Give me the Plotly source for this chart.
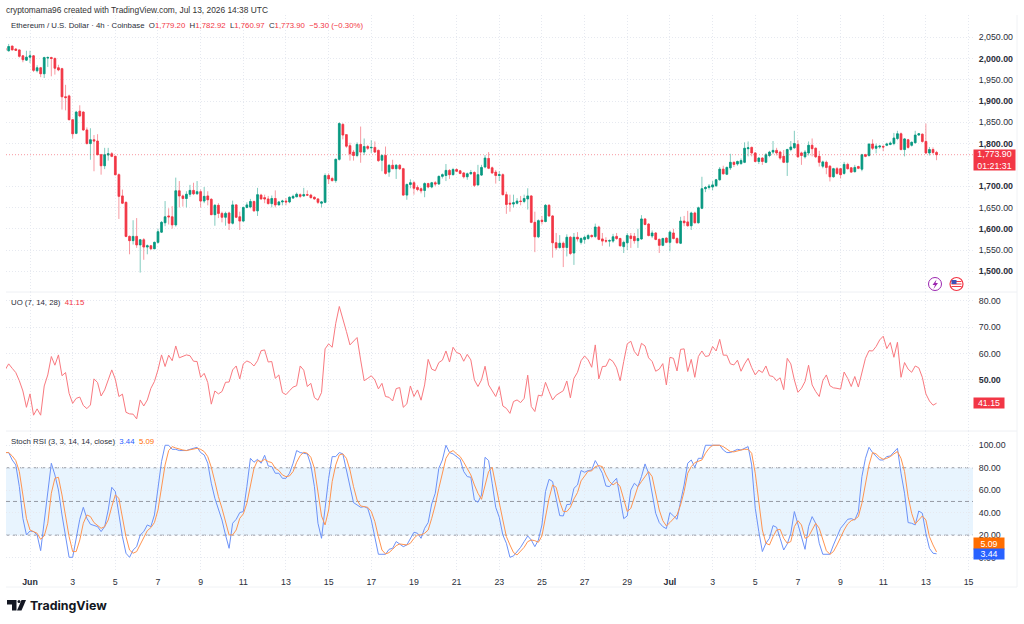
"""ETH/USD 4h TradingView snapshot with UO and Stoch RSI panes."""
import numpy as np
import pandas as pd
import plotly.graph_objects as go
from plotly.subplots import make_subplots

open_ = [
    2024, 2018, 2029, 2022, 2020, 2006, 1996, 2003, 2006, 1971,
    1978, 1964, 2001, 2002, 2000, 1978, 1976, 1910, 1912, 1856,
    1824, 1876, 1874, 1832, 1800, 1809, 1806, 1774, 1748, 1773,
    1776, 1770, 1727, 1677, 1662, 1582, 1572, 1582, 1562, 1574,
    1557, 1560, 1553, 1568, 1592, 1614, 1630, 1628, 1609, 1689,
    1677, 1671, 1681, 1690, 1682, 1687, 1665, 1677, 1669, 1633,
    1655, 1636, 1627, 1637, 1613, 1656, 1628, 1618, 1650, 1651,
    1664, 1642, 1679, 1673, 1670, 1659, 1671, 1656, 1663, 1665,
    1663, 1672, 1675, 1680, 1677, 1680, 1679, 1674, 1670, 1660,
    1662, 1725, 1718, 1713, 1763, 1845, 1821, 1795, 1780, 1772,
    1798, 1780, 1793, 1790, 1791, 1784, 1761, 1772, 1733, 1749,
    1741, 1749, 1741, 1679, 1704, 1708, 1697, 1694, 1690, 1706,
    1698, 1708, 1705, 1723, 1725, 1737, 1727, 1739, 1736, 1731,
    1722, 1729, 1732, 1703, 1726, 1745, 1765, 1743, 1733, 1725,
    1727, 1680, 1660, 1658, 1660, 1665, 1664, 1670, 1677, 1615,
    1581, 1620, 1617, 1655, 1630, 1567, 1556, 1566, 1556, 1580,
    1543, 1580, 1568, 1575, 1577, 1584, 1582, 1604, 1576, 1572,
    1571, 1571, 1582, 1577, 1558, 1567, 1583, 1582, 1572, 1576,
    1623, 1611, 1583, 1590, 1575, 1561, 1578, 1568, 1590, 1577,
    1566, 1618, 1616, 1607, 1637, 1614, 1648, 1694, 1697, 1698,
    1701, 1715, 1740, 1728, 1743, 1756, 1752, 1753, 1756, 1788,
    1791, 1778, 1758, 1766, 1756, 1772, 1780, 1784, 1780, 1770,
    1756, 1786, 1790, 1798, 1778, 1769, 1778, 1796, 1789, 1770,
    1747, 1756, 1747, 1722, 1741, 1741, 1730, 1751, 1743, 1734,
    1746, 1740, 1774, 1772, 1799, 1789, 1792, 1793, 1796, 1798,
    1800, 1812, 1823, 1786, 1809, 1796, 1802, 1820, 1822, 1805,
    1778, 1786, 1779.20,
]
high = [
    2026, 2034, 2030, 2024, 2021, 2008, 2018, 2018, 2008, 1984,
    1980, 2004, 2005, 2004, 2002, 1985, 1978, 1938, 1915, 1858,
    1877, 1890, 1876, 1838, 1836, 1820, 1822, 1776, 1790, 1790,
    1780, 1772, 1730, 1692, 1664, 1584, 1620, 1625, 1576, 1578,
    1563, 1562, 1570, 1600, 1618, 1665, 1648, 1653, 1720, 1712,
    1680, 1688, 1703, 1708, 1712, 1692, 1698, 1688, 1672, 1658,
    1660, 1640, 1640, 1640, 1666, 1658, 1640, 1652, 1662, 1670,
    1666, 1696, 1682, 1680, 1677, 1678, 1690, 1665, 1668, 1672,
    1676, 1680, 1685, 1683, 1696, 1690, 1682, 1676, 1672, 1665,
    1730, 1730, 1722, 1765, 1850, 1848, 1822, 1802, 1785, 1803,
    1840, 1812, 1797, 1808, 1805, 1786, 1775, 1793, 1752, 1762,
    1752, 1752, 1743, 1706, 1716, 1712, 1702, 1697, 1709, 1708,
    1710, 1712, 1725, 1730, 1752, 1740, 1743, 1742, 1738, 1733,
    1732, 1738, 1735, 1750, 1750, 1773, 1780, 1746, 1738, 1735,
    1730, 1687, 1680, 1680, 1672, 1677, 1680, 1695, 1679, 1640,
    1622, 1630, 1658, 1658, 1632, 1590, 1585, 1570, 1587, 1583,
    1590, 1592, 1580, 1584, 1588, 1587, 1612, 1607, 1590, 1580,
    1575, 1588, 1590, 1579, 1572, 1590, 1590, 1590, 1600, 1632,
    1625, 1613, 1596, 1592, 1577, 1579, 1580, 1596, 1600, 1580,
    1628, 1630, 1642, 1640, 1640, 1652, 1722, 1700, 1705, 1712,
    1717, 1745, 1748, 1746, 1776, 1758, 1760, 1765, 1803, 1805,
    1793, 1780, 1768, 1768, 1778, 1783, 1806, 1790, 1783, 1785,
    1788, 1806, 1830, 1808, 1781, 1785, 1805, 1812, 1791, 1783,
    1760, 1760, 1749, 1743, 1745, 1743, 1757, 1755, 1745, 1750,
    1748, 1776, 1776, 1800, 1810, 1800, 1797, 1797, 1802, 1805,
    1825, 1830, 1826, 1813, 1811, 1805, 1830, 1825, 1824, 1847,
    1792, 1791, 1782.92,
]
low = [
    2018, 2016, 2019, 2018, 2002, 1991, 1994, 1989, 1968, 1967,
    1956, 1954, 1980, 1958, 1962, 1970, 1880, 1878, 1855, 1812,
    1822, 1862, 1830, 1798, 1762, 1735, 1772, 1727, 1740, 1760,
    1768, 1725, 1623, 1658, 1580, 1540, 1563, 1555, 1497, 1527,
    1540, 1550, 1552, 1565, 1590, 1606, 1610, 1600, 1605, 1650,
    1652, 1650, 1675, 1679, 1680, 1650, 1660, 1655, 1632, 1607,
    1625, 1615, 1607, 1597, 1610, 1625, 1597, 1616, 1648, 1648,
    1640, 1630, 1668, 1660, 1657, 1650, 1650, 1655, 1655, 1655,
    1660, 1670, 1674, 1672, 1675, 1677, 1671, 1668, 1658, 1650,
    1660, 1705, 1711, 1708, 1760, 1810, 1790, 1760, 1760, 1768,
    1755, 1773, 1785, 1778, 1778, 1757, 1735, 1727, 1722, 1740,
    1717, 1738, 1677, 1668, 1695, 1680, 1688, 1683, 1674, 1695,
    1695, 1700, 1703, 1718, 1712, 1717, 1725, 1733, 1728, 1718,
    1715, 1727, 1698, 1701, 1724, 1742, 1740, 1729, 1706, 1712,
    1678, 1635, 1640, 1650, 1657, 1655, 1660, 1645, 1613, 1545,
    1578, 1610, 1615, 1628, 1532, 1550, 1553, 1510, 1535, 1538,
    1515, 1570, 1563, 1565, 1574, 1578, 1578, 1573, 1560, 1567,
    1558, 1567, 1574, 1558, 1543, 1550, 1555, 1565, 1555, 1574,
    1608, 1582, 1578, 1573, 1543, 1559, 1566, 1547, 1575, 1565,
    1564, 1606, 1605, 1597, 1612, 1612, 1646, 1686, 1692, 1690,
    1698, 1713, 1727, 1726, 1738, 1745, 1748, 1750, 1754, 1770,
    1770, 1756, 1752, 1750, 1754, 1768, 1775, 1772, 1762, 1754,
    1724, 1782, 1788, 1766, 1750, 1765, 1772, 1770, 1766, 1746,
    1742, 1728, 1711, 1720, 1727, 1718, 1727, 1739, 1731, 1732,
    1740, 1735, 1768, 1769, 1785, 1777, 1788, 1782, 1794, 1796,
    1796, 1808, 1784, 1770, 1788, 1793, 1800, 1818, 1802, 1775,
    1772, 1775, 1760.97,
]
close = [
    2019, 2028, 2020, 2019, 2005, 1997, 2003, 2006, 1972, 1978,
    1964, 2002, 2002, 2000, 1977, 1973, 1910, 1908, 1856, 1823,
    1874, 1865, 1832, 1800, 1809, 1806, 1774, 1748, 1774, 1776,
    1770, 1727, 1676, 1660, 1582, 1572, 1582, 1562, 1574, 1557,
    1560, 1553, 1568, 1593, 1615, 1628, 1628, 1609, 1689, 1677,
    1671, 1681, 1690, 1682, 1687, 1665, 1676, 1668, 1633, 1655,
    1636, 1627, 1636, 1613, 1656, 1627, 1618, 1650, 1656, 1664,
    1642, 1680, 1670, 1670, 1659, 1671, 1656, 1663, 1665, 1663,
    1674, 1676, 1681, 1676, 1680, 1679, 1673, 1670, 1662, 1663,
    1725, 1717, 1713, 1763, 1847, 1820, 1794, 1776, 1772, 1798,
    1780, 1793, 1789, 1791, 1780, 1760, 1772, 1730, 1749, 1741,
    1749, 1741, 1679, 1704, 1708, 1695, 1692, 1689, 1706, 1698,
    1708, 1705, 1723, 1727, 1737, 1727, 1739, 1735, 1730, 1722,
    1729, 1732, 1702, 1727, 1744, 1766, 1742, 1731, 1725, 1727,
    1680, 1657, 1658, 1661, 1665, 1664, 1671, 1677, 1615, 1581,
    1619, 1617, 1655, 1630, 1567, 1555, 1566, 1556, 1580, 1542,
    1580, 1576, 1577, 1580, 1584, 1582, 1604, 1575, 1571, 1571,
    1572, 1581, 1577, 1560, 1568, 1584, 1577, 1572, 1577, 1623,
    1610, 1584, 1590, 1575, 1561, 1577, 1568, 1592, 1577, 1567,
    1618, 1614, 1607, 1637, 1614, 1649, 1694, 1697, 1700, 1703,
    1715, 1740, 1729, 1744, 1756, 1751, 1758, 1760, 1789, 1790,
    1778, 1758, 1766, 1758, 1774, 1780, 1784, 1778, 1766, 1756,
    1786, 1792, 1800, 1769, 1772, 1780, 1796, 1788, 1769, 1756,
    1757, 1744, 1722, 1741, 1730, 1727, 1751, 1741, 1733, 1744,
    1742, 1774, 1770, 1799, 1789, 1794, 1794, 1792, 1799, 1801,
    1813, 1823, 1786, 1811, 1791, 1803, 1820, 1823, 1805, 1778,
    1786, 1779, 1773.90,
]

uo = [
    53.8, 56.1, 54.4, 52.8, 49.7, 45.8, 39.6, 44.7, 36.6, 39.0,
    36.6, 47.7, 51.9, 58.9, 55.6, 59.5, 51.6, 52.8, 44.9, 41.1,
    43.0, 43.5, 40.3, 39.1, 40.5, 50.4, 49.0, 43.9, 46.2, 49.7,
    53.8, 50.3, 43.7, 44.6, 37.7, 37.1, 37.0, 35.2, 42.4, 40.1,
    42.4, 46.8, 49.4, 53.8, 59.5, 55.1, 59.4, 57.3, 62.9, 58.4,
    59.1, 59.5, 59.2, 57.1, 57.0, 51.0, 52.5, 49.0, 40.8, 45.8,
    44.7, 45.6, 49.1, 49.2, 53.8, 55.3, 50.4, 56.1, 57.2, 56.6,
    55.3, 57.3, 61.1, 61.4, 56.8, 57.0, 50.6, 51.9, 45.2, 44.4,
    45.9, 47.3, 47.8, 55.3, 53.7, 47.5, 48.7, 43.3, 42.3, 45.2,
    61.8, 63.7, 62.4, 71.5, 77.9, 73.4, 68.4, 63.3, 64.8, 66.1,
    57.6, 49.7, 50.6, 51.6, 50.0, 46.6, 48.7, 43.7, 43.4, 42.0,
    46.7, 47.1, 39.6, 40.9, 47.7, 43.7, 46.2, 42.3, 48.1, 57.8,
    54.1, 53.5, 56.6, 57.5, 61.0, 56.8, 62.4, 60.4, 59.9, 57.1,
    59.7, 57.6, 50.0, 47.5, 50.0, 55.2, 48.1, 45.6, 43.7, 47.5,
    40.1, 39.2, 37.3, 41.8, 42.4, 41.4, 43.0, 51.8, 39.9, 38.0,
    44.2, 43.9, 49.1, 45.6, 42.4, 44.2, 44.9, 45.9, 49.6, 43.2,
    50.6, 52.9, 57.3, 59.1, 57.6, 54.8, 63.3, 50.4, 55.1, 55.2,
    58.0, 57.0, 54.6, 49.7, 57.0, 63.7, 64.7, 60.8, 59.1, 63.9,
    62.9, 58.4, 57.0, 53.3, 54.1, 56.2, 48.1, 58.6, 58.2, 53.4,
    61.6, 61.8, 53.2, 57.8, 51.0, 58.9, 61.0, 58.9, 59.2, 62.7,
    61.0, 65.4, 59.4, 59.4, 56.1, 55.7, 57.5, 53.3, 56.1, 58.2,
    54.7, 51.9, 53.7, 52.8, 55.3, 51.6, 51.3, 49.7, 50.8, 46.3,
    58.2, 56.1, 50.0, 45.3, 46.8, 49.4, 55.6, 48.1, 45.6, 43.7,
    49.7, 51.9, 47.8, 47.0, 46.8, 46.5, 53.0, 50.6, 47.5, 51.3,
    47.3, 53.2, 58.2, 61.1, 61.0, 62.7, 65.2, 66.6, 61.9, 64.2,
    58.6, 64.3, 51.0, 56.6, 54.1, 52.9, 55.3, 54.6, 51.0, 44.7,
    42.0, 40.4, 41.15,
]

stoch_k = [
    93.5, 93.5, 86.9, 82.5, 63.2, 35.0, 20.2, 23.7, 23.2, 20.2,
    6.2, 30.6, 57.3, 84.0, 73.6, 60.2, 38.0, 18.7, 0.3, 0.3,
    15.7, 34.1, 44.8, 35.0, 29.7, 28.5, 27.6, 23.2, 27.6, 42.4,
    62.6, 58.8, 36.5, 18.7, 3.9, 0.3, 6.8, 9.8, 20.2, 23.2,
    29.1, 27.6, 38.0, 60.2, 85.5, 100, 100, 96.4, 96.4, 95.3,
    95.3, 95.3, 96.4, 97.3, 98.2, 93.5, 91.4, 84.0, 66.2, 52.8,
    43.9, 33.5, 20.2, 8.3, 30.6, 34.1, 40.1, 41.0, 63.2, 88.4,
    84.9, 87.5, 84.0, 91.1, 81.6, 81.0, 75.1, 75.1, 70.6, 70.6,
    75.1, 84.0, 95.3, 93.5, 92.9, 92.3, 82.5, 63.2, 30.6, 17.2,
    43.9, 70.6, 89.9, 89.9, 93.5, 92.3, 78.0, 63.2, 49.0, 46.9,
    44.8, 45.4, 43.9, 33.5, 18.7, 3.0, 3.0, 3.0, 7.4, 8.3,
    14.3, 12.2, 9.8, 11.3, 17.2, 22.6, 21.7, 17.2, 26.1, 31.2,
    47.8, 57.3, 79.5, 86.9, 100, 93.5, 92.3, 89.9, 87.5, 76.6,
    72.1, 71.5, 51.3, 49.3, 55.8, 89.3, 86.4, 66.2, 44.8, 35.9,
    20.2, 12.8, 0.3, 1.5, 5.4, 9.2, 14.3, 19.3, 15.7, 9.8,
    15.7, 29.1, 58.8, 69.7, 67.7, 52.8, 37.4, 37.1, 47.2, 47.5,
    61.7, 64.7, 77.5, 76.0, 77.5, 78.0, 86.4, 81.0, 75.1, 63.8,
    63.2, 67.1, 70.6, 52.8, 34.7, 37.1, 60.2, 66.2, 63.2, 72.1,
    83.4, 75.1, 57.3, 39.5, 31.2, 27.6, 25.8, 40.1, 37.1, 34.1,
    49.9, 64.7, 84.0, 86.9, 80.4, 88.4, 88.4, 100, 100, 100,
    100, 100, 95.8, 93.5, 93.5, 95.3, 96.4, 95.8, 97.3, 98.8,
    82.5, 43.9, 23.2, 5.4, 12.8, 17.2, 28.5, 27.0, 17.2, 6.8,
    12.2, 21.7, 41.0, 29.1, 17.2, 7.4, 27.6, 36.5, 30.6, 12.8,
    3.0, 3.0, 3.0, 11.3, 18.7, 26.1, 30.0, 34.1, 34.7, 33.5,
    41.0, 72.1, 88.4, 98.2, 93.5, 89.9, 86.9, 86.9, 89.9, 90.5,
    94.4, 97.3, 75.1, 57.3, 31.2, 30.6, 29.1, 41.5, 39.5, 21.7,
    8.3, 3.9, 3.44,
]
stoch_d = [
    93.5, 93.5, 90.5, 86.4, 76.6, 57.3, 35.0, 24.6, 23.2, 21.7,
    16.3, 19.3, 30.6, 57.3, 70.6, 71.5, 55.8, 36.5, 18.7, 5.4,
    5.4, 15.7, 30.6, 38.0, 36.5, 31.2, 28.5, 26.1, 27.6, 33.5,
    45.4, 55.8, 52.8, 36.5, 18.7, 6.8, 3.9, 5.4, 11.3, 17.2,
    24.0, 26.7, 31.2, 42.4, 61.7, 82.5, 95.3, 98.8, 97.6, 96.4,
    95.8, 95.3, 95.8, 96.4, 97.3, 96.4, 94.4, 89.9, 80.4, 67.7,
    54.3, 43.9, 32.1, 20.2, 20.2, 24.6, 35.0, 38.9, 48.4, 64.7,
    79.5, 86.4, 85.5, 87.5, 85.5, 84.6, 79.5, 77.5, 73.6, 72.1,
    72.7, 76.6, 84.9, 90.8, 93.8, 92.9, 89.3, 79.5, 58.8, 37.1,
    29.1, 42.4, 67.7, 82.5, 91.4, 92.3, 88.4, 78.0, 63.2, 51.3,
    46.0, 45.4, 44.8, 41.0, 32.1, 18.7, 6.8, 3.3, 4.5, 7.4,
    10.7, 12.2, 11.9, 11.3, 12.8, 17.2, 20.2, 20.2, 21.7, 24.6,
    35.0, 46.9, 61.7, 75.1, 88.4, 93.5, 95.3, 92.3, 89.9, 84.9,
    78.6, 73.6, 64.7, 57.3, 51.9, 64.7, 76.6, 80.4, 66.2, 49.0,
    33.5, 18.7, 11.3, 4.5, 2.4, 5.4, 9.2, 14.3, 15.7, 15.1,
    13.7, 19.3, 35.0, 52.8, 64.7, 62.6, 49.9, 41.0, 41.0, 44.8,
    52.2, 57.9, 68.3, 72.7, 76.9, 77.2, 81.0, 81.9, 81.0, 73.6,
    67.7, 64.7, 67.1, 63.2, 52.8, 41.0, 43.9, 54.3, 63.2, 67.7,
    72.7, 76.6, 72.1, 57.3, 42.4, 32.9, 28.2, 31.2, 35.0, 38.0,
    46.9, 58.8, 75.1, 81.0, 84.6, 85.5, 86.9, 92.9, 97.3, 100,
    100, 100, 98.8, 96.4, 94.4, 94.1, 95.3, 95.8, 96.4, 96.4,
    92.9, 75.1, 49.9, 24.6, 12.8, 11.3, 18.7, 24.6, 25.2, 17.2,
    12.8, 14.3, 27.6, 32.9, 29.1, 17.2, 18.7, 24.6, 30.6, 26.1,
    15.7, 6.2, 3.0, 5.4, 11.3, 18.7, 24.6, 30.0, 32.9, 34.1,
    36.5, 48.4, 66.2, 82.5, 93.5, 92.3, 89.3, 87.5, 88.4, 89.9,
    92.3, 94.4, 88.4, 76.6, 54.3, 39.5, 30.0, 33.5, 37.1, 33.5,
    18.7, 11.3, 5.09,
]

price_ticks = [2050, 2000, 1950, 1900, 1850, 1800, 1700, 1650, 1600, 1550, 1500]
price_labels = ["2,050.00", "<b>2,000.00</b>", "1,950.00", "<b>1,900.00</b>", "1,850.00",
                "<b>1,800.00</b>", "<b>1,700.00</b>", "1,650.00", "<b>1,600.00</b>",
                "1,550.00", "<b>1,500.00</b>"]
uo_ticks = [80, 70, 60, 50]
uo_labels = ["80.00", "70.00", "60.00", "<b>50.00</b>"]
stoch_ticks = [100, 80, 60, 40, 20, 0]
stoch_labels = ["100.00", "80.00", "60.00", "40.00", "20.00", "0.00"]
date_ticks = ["2026-06-01", "2026-06-03", "2026-06-05", "2026-06-07", "2026-06-09", "2026-06-11",
              "2026-06-13", "2026-06-15", "2026-06-17", "2026-06-19", "2026-06-21", "2026-06-23",
              "2026-06-25", "2026-06-27", "2026-06-29", "2026-07-01", "2026-07-03", "2026-07-05",
              "2026-07-07", "2026-07-09", "2026-07-11", "2026-07-13", "2026-07-15"]
date_labels = ["<b>Jun</b>", "3", "5", "7", "9", "11", "13", "15", "17", "19", "21", "23",
               "25", "27", "29", "<b>Jul</b>", "3", "5", "7", "9", "11", "13", "15"]

for name, arr in [("open", open_), ("high", high), ("low", low), ("close", close),
                  ("uo", uo), ("k", stoch_k), ("d", stoch_d)]:
    assert len(arr) == 263, f"{name} has {len(arr)}"

GREEN = "#089981"
RED = "#F23645"
FONT = "Liberation Sans"
TEXT = "#2a2e39"
W, H = 1024, 624


def px(x):
    return x / W


def py(y):
    return 1 - y / H


times = pd.date_range("2026-05-30 20:00", periods=263, freq="4h")
body_top = np.maximum(open_, close)
body_bot = np.minimum(open_, close)

fig = make_subplots(rows=3, cols=1, shared_xaxes=True, vertical_spacing=0)

# pale wicks first, solid bodies drawn on top
fig.add_trace(go.Candlestick(
    x=times, open=open_, high=high, low=low, close=close, whiskerwidth=0,
    increasing=dict(line=dict(color="rgba(8,153,129,0.5)", width=1), fillcolor="rgba(8,153,129,0.5)"),
    decreasing=dict(line=dict(color="rgba(242,54,69,0.5)", width=1), fillcolor="rgba(242,54,69,0.5)"),
    showlegend=False, hoverinfo="skip",
), row=1, col=1)
fig.add_trace(go.Candlestick(
    x=times, open=open_, high=body_top, low=body_bot, close=close, whiskerwidth=0,
    increasing=dict(line=dict(color=GREEN, width=0.5), fillcolor=GREEN),
    decreasing=dict(line=dict(color=RED, width=0.5), fillcolor=RED),
    showlegend=False, hoverinfo="skip",
), row=1, col=1)
fig.add_hline(y=1773.9, line=dict(color="rgba(242,54,69,0.5)", width=1, dash="1px,2px"), row=1, col=1)

fig.add_trace(go.Scatter(x=times, y=uo, mode="lines", line=dict(color="#F9797F", width=1),
                         showlegend=False, hoverinfo="skip"), row=2, col=1)

fig.add_trace(go.Scatter(x=times, y=stoch_k, mode="lines", line=dict(color="#6C92F8", width=1),
                         showlegend=False, hoverinfo="skip"), row=3, col=1)
fig.add_trace(go.Scatter(x=times, y=stoch_d, mode="lines", line=dict(color="#FF9450", width=1),
                         showlegend=False, hoverinfo="skip"), row=3, col=1)
# hrect/hline skip empty subplots, so these come after the traces
fig.add_hrect(y0=20, y1=80, fillcolor="rgba(33,150,243,0.1)", line_width=0, layer="below", row=3, col=1)
for level in (80, 50, 20):
    fig.add_hline(y=level, line=dict(color="rgba(120,123,134,0.75)", width=1, dash="4px,3px"),
                  layer="below", row=3, col=1)

fig.update_layout(
    width=W, height=H, margin=dict(l=0, r=0, t=0, b=0),
    paper_bgcolor="white", plot_bgcolor="white",
    font=dict(family=FONT, size=9, color=TEXT),
    hovermode=False,
)
grid = dict(showgrid=True, gridcolor="#E6E9F0", griddash="1px,2px", gridwidth=1, zeroline=False,
            showline=False)
fig.update_xaxes(range=["2026-05-30 21:00", "2026-07-15 05:00"], domain=[px(6), px(973)],
                 tickmode="array", tickvals=date_ticks, ticktext=date_labels,
                 rangeslider_visible=False, ticks="outside", ticklen=3, tickcolor="white",
                 tickfont=dict(size=8.8, color=TEXT), **grid)
fig.update_yaxes(side="right", tickmode="array", ticks="outside", ticklen=3, tickcolor="white",
                 tickfont=dict(size=8.8, color=TEXT), **grid)
fig.update_yaxes(domain=[py(292), py(15)], range=[1451.4, 2102], tickvals=price_ticks,
                 ticktext=price_labels, row=1, col=1)
fig.update_yaxes(domain=[py(431), py(292)], range=[30.6, 83.4], tickvals=uo_ticks,
                 ticktext=uo_labels, row=2, col=1)
fig.update_yaxes(domain=[py(570), py(431)], range=[-11, 112.7], tickvals=stoch_ticks,
                 ticktext=stoch_labels, row=3, col=1)

# frame and pane separators
for y in (292, 431):
    fig.add_shape(type="line", xref="paper", yref="paper", x0=px(6), x1=px(1017), y0=py(y), y1=py(y),
                  line=dict(color="#EEF0F4", width=1))
fig.add_shape(type="line", xref="paper", yref="paper", x0=px(1017), x1=px(1017), y0=py(15), y1=py(587),
              line=dict(color="#F0F2F5", width=1))
fig.add_shape(type="line", xref="paper", yref="paper", x0=px(6), x1=px(1017), y0=py(587), y1=py(587),
              line=dict(color="#F0F2F5", width=1))


def label(x, y, text, size=7.8, color=TEXT, **kw):
    fig.add_annotation(xref="paper", yref="paper", x=px(x), y=py(y), text=text, showarrow=False,
                       xanchor="left", yanchor="middle", font=dict(size=size, color=color, family=FONT), **kw)


def red(t):
    return f'<span style="color:{RED}">{t}</span>'


label(4, 10, "cryptomama96 created with TradingView.com, Jul 13, 2026 14:38 UTC", size=8.4, color="#333")
label(9, 26, "Ethereum / U.S. Dollar · 4h · Coinbase  O" + red("1,779.20") + "  H" + red("1,782.92")
      + "  L" + red("1,760.97") + "  C" + red("1,773.90") + "  " + red("−5.30 (−0.30%)"))
label(9, 302.5, "UO (7, 14, 28)  " + red("41.15"))
label(9, 441, 'Stoch RSI (3, 3, 14, 14, close)  <span style="color:#2962FF">3.44</span>  '
      '<span style="color:#FF6D00">5.09</span>')

# last value tags on the price scale
label(973, 160, "1,773.90<br>01:21:31", size=8.8, color="white", bgcolor=RED, width=41, height=20,
      borderpad=0, align="center")
label(973, 403, "41.15", size=8.8, color="white", bgcolor="#F23645", width=30, height=10, borderpad=0, align="center")
label(973, 543, "5.09", size=8.8, color="white", bgcolor="#FF6D00", width=30, height=11, borderpad=0, align="center")
label(973, 554, "3.44", size=8.8, color="white", bgcolor="#2962FF", width=30, height=10, borderpad=0, align="center")

# TradingView mark
fig.add_shape(type="path", xref="paper", yref="paper", fillcolor="#131722", line_width=0,
              path=f"M {px(7)} {py(600)} L {px(16.5)} {py(600)} L {px(16.5)} {py(610.5)} L {px(12)} {py(610.5)} "
                   f"L {px(12)} {py(604.5)} L {px(7)} {py(604.5)} Z")
fig.add_shape(type="circle", xref="paper", yref="paper", fillcolor="#131722", line_width=0,
              x0=px(17.5), x1=px(20.5), y0=py(603), y1=py(600))
fig.add_shape(type="path", xref="paper", yref="paper", fillcolor="#131722", line_width=0,
              path=f"M {px(21.5)} {py(600)} L {px(26)} {py(600)} L {px(21.5)} {py(610.5)} L {px(17)} {py(610.5)} Z")
fig.add_annotation(xref="paper", yref="paper", x=px(28), y=py(605), text="<b>TradingView</b>", showarrow=False,
                   xanchor="left", yanchor="middle", font=dict(size=12.4, color="#131722", family="Inter"))

# small badges above the indicator panes
fig.add_shape(type="circle", xref="paper", yref="paper", line=dict(color="#9C27B0", width=1), fillcolor="white",
              x0=px(928.5), x1=px(941.5), y0=py(290.5), y1=py(277.5))
fig.add_shape(type="path", xref="paper", yref="paper", fillcolor="#9C27B0", line_width=0,
              path=f"M {px(936.5)} {py(279.5)} L {px(932.5)} {py(285)} L {px(935)} {py(285)} L {px(933.5)} {py(289)} "
                   f"L {px(938)} {py(283)} L {px(935.5)} {py(283)} Z")
fig.add_shape(type="circle", xref="paper", yref="paper", line=dict(color=RED, width=1.2), fillcolor="white",
              x0=px(950), x1=px(963), y0=py(290.5), y1=py(277.5))
for y in (281.5, 284, 286.5):
    fig.add_shape(type="line", xref="paper", yref="paper", line=dict(color=RED, width=1),
                  x0=px(951.5), x1=px(961.5), y0=py(y), y1=py(y))
fig.add_shape(type="path", xref="paper", yref="paper", fillcolor="#3F51B5", line_width=0,
              path=f"M {px(951.5)} {py(280)} L {px(956.5)} {py(280)} L {px(956.5)} {py(284)} L {px(951.5)} {py(284)} Z")

fig.write_html("out.html", post_script="document.body.style.margin='0';", config=dict(displayModeBar=False))
